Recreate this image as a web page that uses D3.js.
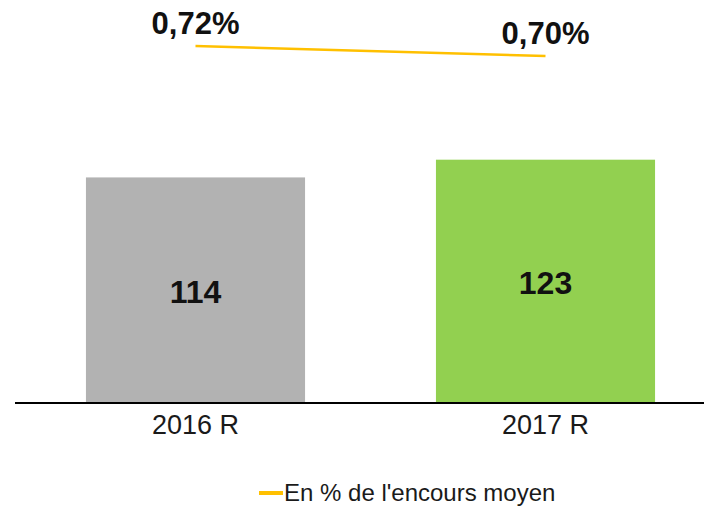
<!DOCTYPE html>
<html>
<head>
<meta charset="utf-8">
<script src="https://cdn.jsdelivr.net/npm/d3@7"></script>
<style>
  body { margin: 0; background: #fff; }
  svg { display: block; font-family: 'Liberation Sans', Arial, sans-serif; }
</style>
</head>
<body>
<svg id="chart"></svg>
<script>
const categories = ['2016 R', '2017 R']
const amounts = [114, 123]
const rates = [0.72, 0.70]
const rateLabels = ['0,72%', '0,70%']
const barColors = ['#b2b2b2', '#92d050']
const legendLabel = "En % de l'encours moyen"

const width = 704
const height = 508
const baseY = 402

const svg = d3.select('#chart')
  .attr('width', width)
  .attr('height', height)

const x = d3.scaleBand()
  .domain(categories)
  .range([20.5, 720.5])
  .paddingInner(0.374)
  .paddingOuter(0.187)

// bars
const y = d3.scaleLinear().domain([0, 200]).range([baseY, 8])

// rate line sits above bars on its own scale
const yRate = d3.scaleLinear().domain([0.70, 0.72]).range([56, 46])

svg.selectAll('rect.bar')
  .data(amounts)
  .join('rect')
  .attr('class', 'bar')
  .attr('x', (d, i) => x(categories[i]))
  .attr('y', d => y(d))
  .attr('width', x.bandwidth())
  .attr('height', d => baseY - y(d))
  .attr('fill', (d, i) => barColors[i])

svg.selectAll('text.val')
  .data(amounts)
  .join('text')
  .attr('class', 'val')
  .attr('x', (d, i) => x(categories[i]) + x.bandwidth() / 2)
  .attr('y', d => (y(d) + baseY) / 2 + 13)
  .attr('text-anchor', 'middle')
  .attr('font-size', '32px')
  .attr('font-weight', 'bold')
  .attr('fill', '#111')
  .text(d => d)

// axis baseline
svg.append('line')
  .attr('x1', 15)
  .attr('x2', width)
  .attr('y1', baseY + 1)
  .attr('y2', baseY + 1)
  .attr('stroke', '#000')
  .attr('stroke-width', 2)

svg.selectAll('text.cat')
  .data(categories)
  .join('text')
  .attr('class', 'cat')
  .attr('x', d => x(d) + x.bandwidth() / 2)
  .attr('y', 434)
  .attr('text-anchor', 'middle')
  .attr('font-size', '27px')
  .attr('fill', '#1a1a1a')
  .text(d => d)

// rate line
const line = d3.line()
  .x((d, i) => x(categories[i]) + x.bandwidth() / 2)
  .y(d => yRate(d))

svg.append('path')
  .datum(rates)
  .attr('d', line)
  .attr('fill', 'none')
  .attr('stroke', '#ffc000')
  .attr('stroke-width', 2.5)

svg.selectAll('text.rate')
  .data(rates)
  .join('text')
  .attr('class', 'rate')
  .attr('x', (d, i) => x(categories[i]) + x.bandwidth() / 2)
  .attr('y', d => yRate(d) - 12)
  .attr('text-anchor', 'middle')
  .attr('font-size', '31px')
  .attr('font-weight', 'bold')
  .attr('fill', '#111')
  .text((d, i) => rateLabels[i])

// legend
const legend = svg.append('g').attr('transform', 'translate(259,493)')
legend.append('line')
  .attr('x1', 0).attr('x2', 24)
  .attr('y1', 0).attr('y2', 0)
  .attr('stroke', '#ffc000')
  .attr('stroke-width', 4)
legend.append('text')
  .attr('x', 25)
  .attr('y', 8)
  .attr('font-size', '24px')
  .attr('fill', '#1a1a1a')
  .text(legendLabel)
</script>
</body>
</html>
